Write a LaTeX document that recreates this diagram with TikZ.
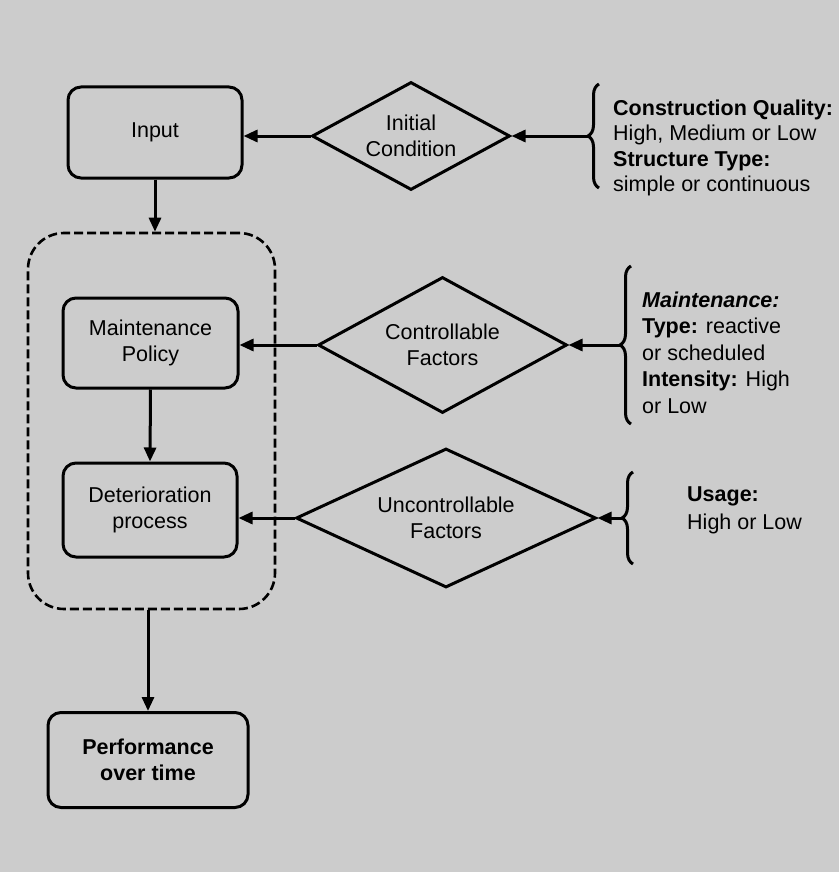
\documentclass[tikz,border=0pt]{standalone}
\usepackage{fontspec}
\setmainfont{Liberation Sans}
\usetikzlibrary{shapes.geometric,arrows.meta,decorations.pathreplacing}
\begin{document}
\begin{tikzpicture}[x=1pt,y=-1pt,
  every node/.style={font=\fontsize{21.5}{25.5}\selectfont},
  box/.style={draw,line width=3pt,rounded corners=13pt,align=center,inner sep=0pt},
  dia/.style={draw,line width=3pt,diamond,align=center,inner sep=0pt},
  grp/.style={draw,line width=2.6pt,dash pattern=on 9pt off 4pt,rounded corners=36pt,inner sep=0pt},
  arr/.style={line width=3pt,-{Triangle[length=14pt,width=12pt]}},
  brc/.style={line width=3pt,decorate,decoration={brace,amplitude=11pt}},
  info/.style={align=left,anchor=north west,inner sep=0pt}]
\fill[black!20] (0,0) rectangle (839,872);
\useasboundingbox (0,0) rectangle (839,872);

% main column
\node[box,minimum width=174pt,minimum height=91pt] (input) at (155,132.5) {Input};
\node[grp,minimum width=247pt,minimum height=376pt] (group) at (151.5,421) {};
\node[box,minimum width=175pt,minimum height=90pt] (maint) at (150.5,343) {Maintenance\\Policy};
\node[box,minimum width=174pt,minimum height=94pt] (deter) at (150,510) {Deterioration\\process};
\node[box,minimum width=200pt,minimum height=95pt,font=\fontsize{21.5}{25.5}\selectfont\bfseries] (perf) at (148,760) {Performance\\over time};

% diamonds
\node[dia,aspect=1.83,minimum width=198pt,minimum height=108pt] (initc) at (411,136) {Initial\\Condition};
\node[dia,aspect=1.83,minimum width=249pt,minimum height=136pt] (ctrl) at (442.5,345) {Controllable\\Factors};
\node[dia,aspect=2.16,minimum width=300pt,minimum height=139pt] (unctrl) at (446,518) {Uncontrollable\\Factors};

% braces
\draw[brc] (599,188) -- (599,84);
\coordinate (b1) at (588,136);
\draw[brc] (631,424) -- (631,266);
\coordinate (b2) at (620,345);
\draw[brc] (633,564) -- (633,472);
\coordinate (b3) at (622,518);

% info texts
\node[info] (t1) at (613,99.5) {\textbf{Construction Quality:}\\High, Medium or Low\\\textbf{Structure Type:}\\simple or continuous};
\node[info,font=\fontsize{21.5}{26.5}\selectfont] (t2) at (642,291.5) {\textbf{\textit{Maintenance:}}\\\textbf{Type:} reactive\\or scheduled\\\textbf{Intensity:} High\\or Low};
\node[info,font=\fontsize{21.5}{28}\selectfont] (t3) at (687,486.5) {\textbf{Usage:}\\High or Low};

% connectors
\draw[arr] (b1) -- (initc.east);
\draw[arr] (initc.west) -- (input.east |- initc.west);
\draw[arr] (b2) -- (ctrl.east);
\draw[arr] (ctrl.west) -- (maint.east |- ctrl.west);
\draw[arr] (b3) -- (unctrl.east);
\draw[arr] (unctrl.west) -- (deter.east |- unctrl.west);
\draw[arr] (input.south) -- (input.south |- group.north);
\draw[arr] (maint.south) -- (deter.north);
\draw[arr] (group.south -| perf.north) -- (perf.north);
\end{tikzpicture}
\end{document}
